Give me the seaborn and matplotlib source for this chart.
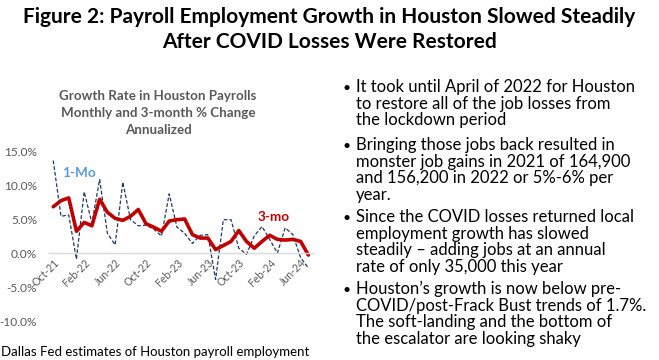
import matplotlib
matplotlib.use("Agg")
import matplotlib.pyplot as plt
import seaborn as sns
import pandas as pd

months = ["Oct-21", "Nov-21", "Dec-21", "Jan-22", "Feb-22", "Mar-22", "Apr-22", "May-22",
          "Jun-22", "Jul-22", "Aug-22", "Sep-22", "Oct-22", "Nov-22", "Dec-22", "Jan-23",
          "Feb-23", "Mar-23", "Apr-23", "May-23", "Jun-23", "Jul-23", "Aug-23", "Sep-23",
          "Oct-23", "Nov-23", "Dec-23", "Jan-24", "Feb-24", "Mar-24", "Apr-24", "May-24",
          "Jun-24", "Jul-24"]
one_mo = [13.6, 5.4, 5.6, -0.9, 9.0, 4.4, 10.8, 2.9, 1.2, 10.4, 4.9, 4.0,
          4.1, 3.5, 2.5, 8.7, 3.8, 2.9, 1.4, 2.6, 2.7, -3.9, 4.9, 4.9,
          0.7, -0.2, 2.5, 3.9, 2.0, 0.0, 3.7, 2.7, -0.7, -2.2]
three_mo = [6.8, 7.7, 8.1, 3.2, 4.5, 4.0, 7.9, 6.0, 5.1, 4.8, 5.4, 6.4,
            4.3, 3.8, 3.2, 4.7, 4.9, 5.0, 2.7, 2.2, 2.2, 0.5, 1.1, 1.7,
            3.3, 1.7, 0.7, 1.7, 2.6, 2.0, 1.9, 2.0, 1.7, -0.3]
tick_labels = ["Oct-21", "Feb-22", "Jun-22", "Oct-22", "Feb-23", "Jun-23", "Oct-23", "Feb-24", "Jun-24"]
y_ticks = [-10, -5, 0, 5, 10, 15]

sns.set_theme(style="white")
plt.rcParams['font.family'] = ['Lato', 'DejaVu Sans']

df = pd.DataFrame({"idx": range(len(months)), "month": months,
                   "one": one_mo, "three": three_mo})

W, H = 659, 360
fig = plt.figure(figsize=(W / 100, H / 100), dpi=100)
fig.patch.set_facecolor("white")

left, right, top, bottom = 49, 313, 151, 321
ax = fig.add_axes([left / W, 1 - bottom / H, (right - left) / W, (bottom - top) / H])
ax.set_facecolor("white")

sns.lineplot(data=df, x="idx", y="one", ax=ax, color="#203864", linewidth=0.9,
             linestyle=(0, (3, 1.6)))
sns.lineplot(data=df, x="idx", y="three", ax=ax, color="#C00000", linewidth=2.6)

for s in ["top", "right", "left"]:
    ax.spines[s].set_visible(False)
ax.spines["bottom"].set_position(("data", 0))
ax.spines["bottom"].set_color("#d9d9d9")
ax.spines["bottom"].set_linewidth(1.0)
ax.grid(False)

ax.set_xlim(-0.55, len(months) - 1 + 0.6)
ax.set_ylim(-10, 15)
ax.set_yticks(y_ticks)
ax.set_yticklabels([f"{v:.1f}%" for v in y_ticks], color="#595959", fontsize=8.6)
pos = [months.index(m) for m in tick_labels]
ax.set_xticks(pos)
ax.set_xticklabels(tick_labels, color="#595959", fontsize=7.6)
for lab in ax.get_xticklabels():
    lab.set_rotation(45)
    lab.set_ha("right")
    lab.set_rotation_mode("anchor")
ax.tick_params(axis="both", length=0)
ax.tick_params(axis="x", pad=3)
ax.tick_params(axis="y", pad=8.5)
ax.set_xlabel("")
ax.set_ylabel("")

ax.text(3.3, 11.8, "1-Mo", color="#5B9BD5", fontsize=9.8, fontweight="bold",
        ha="center", va="center")
ax.text(28.5, 5.3, "3-mo", color="#C00000", fontsize=9.8, fontweight="bold",
        ha="center", va="center")

# Chart title
fig.text(158 / W, 1 - 113 / H,
         "Growth Rate in Houston Payrolls\nMonthly and 3-month % Change\nAnnualized",
         ha="center", va="center", color="#595959", fontsize=9.6, fontweight="bold",
         linespacing=1.45)

# Figure title
fig.text(0.5, 1 - 17 / H, "Figure 2: Payroll Employment Growth in Houston Slowed Steadily",
         ha="center", va="center", fontsize=15.0, fontweight="bold", color="black")
fig.text(0.5, 1 - 42 / H, "After COVID Losses Were Restored",
         ha="center", va="center", fontsize=15.0, fontweight="bold", color="black")

# Bullets
bullets = [
    (88, "It took until April of 2022 for Houston\nto restore all of the job losses from\nthe lockdown period"),
    (146, "Bringing those jobs back resulted in\nmonster job gains in 2021 of 164,900\nand 156,200 in 2022 or 5%-6% per\nyear."),
    (218, "Since the COVID losses returned local\nemployment growth has slowed\nsteadily \u2013 adding jobs at an annual\nrate of only 35,000 this year"),
    (290, "Houston\u2019s growth is now below pre-\nCOVID/post-Frack Bust trends of 1.7%.\nThe soft-landing and the bottom of\nthe escalator are looking shaky"),
]
for y, txt in bullets:
    fig.text(343 / W, 1 - y / H, "\u2022", ha="left", va="center", fontsize=10, color="black")
    fig.text(356 / W, 1 - (y - 9) / H, txt, ha="left", va="top", fontsize=12.0,
             color="black", linespacing=1.04)

fig.text(1 / W, 1 - 352 / H, "Dallas Fed estimates of Houston payroll employment",
         ha="left", va="center", fontsize=9.5, color="black")

fig.savefig("out.png", dpi=100, facecolor="white")
